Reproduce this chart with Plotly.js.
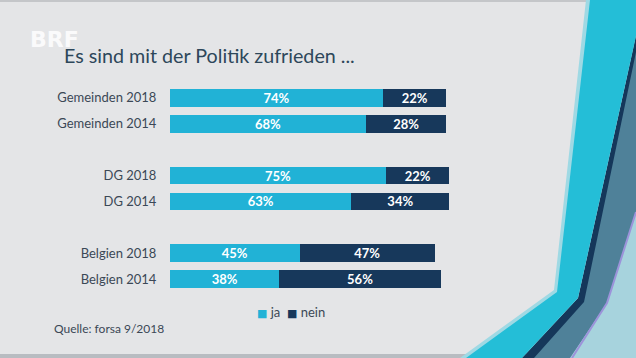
<!DOCTYPE html>
<html>
<head>
<meta charset="utf-8">
<script src="https://cdn.plot.ly/plotly-3.0.1.min.js"></script>
<style>html,body{margin:0;padding:0;background:#e4e5e7;}#chart{width:636px;height:358px;}</style>
</head>
<body>
<div id="chart"></div>
<script>
// ---- data ----
const categories = ['Gemeinden 2018', 'Gemeinden 2014', 'DG 2018', 'DG 2014', 'Belgien 2018', 'Belgien 2014'];
const spacers = [' ', '  '];
const jaValues = [74, 68, 75, 63, 45, 38];
const neinValues = [22, 28, 22, 34, 47, 56];
const seriesNames = ['ja', 'nein'];
const titleText = 'Es sind mit der Politik zufrieden ...';
const sourceText = 'Quelle: forsa 9/2018';

// ---- styling ----
const C_JA = '#21b2d6';
const C_NEIN = '#17385b';
const C_TEXT = '#3b4856';
const FONT = 'Lato, "Open Sans", sans-serif';

const W = 636, H = 358;
const M = {l: 170, r: 178, t: 72, b: 53};
const PW = W - M.l - M.r, PH = H - M.t - M.b;
const xp = X => (X - M.l) / PW;
const yp = Y => (M.t + PH - Y) / PH;
const poly = pts => 'M' + pts.map(p => xp(p[0]).toFixed(4) + ',' + yp(p[1]).toFixed(4)).join('L') + 'Z';

// category order with blank spacer rows between groups
const categoryOrder = [categories[0], categories[1], spacers[0], categories[2], categories[3], spacers[1], categories[4], categories[5]];

const barText = {color: '#ffffff', size: 13, family: FONT, weight: 'bold'};
const traces = [
  {type: 'bar', orientation: 'h', name: seriesNames[0], y: categories, x: jaValues,
   marker: {color: C_JA}, width: 0.69, showlegend: false,
   texttemplate: '%{x}%', textposition: 'inside', insidetextanchor: 'middle', textangle: 0,
   constraintext: 'none', textfont: barText, hoverinfo: 'skip'},
  {type: 'bar', orientation: 'h', name: seriesNames[1], y: categories, x: neinValues,
   marker: {color: C_NEIN}, width: 0.69, showlegend: false,
   texttemplate: '%{x}%', textposition: 'inside', insidetextanchor: 'middle', textangle: 0,
   constraintext: 'none', textfont: barText, hoverinfo: 'skip'}
];

// decorative background shapes (TV graphic frame)
const shapes = [
  {type: 'path', xref: 'paper', yref: 'paper', layer: 'below', line: {width: 0}, fillcolor: '#c4c6c9',
   path: poly([[0, 0], [636, 0], [636, 2], [0, 2]])},
  {type: 'path', xref: 'paper', yref: 'paper', layer: 'below', line: {width: 0}, fillcolor: '#b8bcc1',
   path: poly([[0, 354], [636, 354], [636, 358], [0, 358]])},
  {type: 'path', xref: 'paper', yref: 'paper', layer: 'below', line: {width: 0}, fillcolor: '#a7d3dd',
   path: poly([[636, 200], [636, 358], [560, 358], [604, 303]])},
  {type: 'path', xref: 'paper', yref: 'paper', layer: 'below', line: {width: 0}, fillcolor: '#4f8199',
   path: poly([[636, 36], [636, 212], [607, 303], [570, 358], [528, 358], [580, 300]])},
  {type: 'path', xref: 'paper', yref: 'paper', layer: 'below', line: {color: '#9c93da', width: 2},
   path: 'M' + xp(636).toFixed(4) + ',' + yp(212).toFixed(4) + 'L' + xp(607).toFixed(4) + ',' + yp(303).toFixed(4) + 'L' + xp(572).toFixed(4) + ',' + yp(358).toFixed(4)},
  {type: 'path', xref: 'paper', yref: 'paper', layer: 'below', line: {width: 0}, fillcolor: '#15375a',
   path: poly([[636, 36], [636, 52], [584, 302], [534, 358], [522, 358], [578, 298]])},
  {type: 'path', xref: 'paper', yref: 'paper', layer: 'below', line: {width: 0}, fillcolor: '#9fd9e4',
   path: poly([[586, 0], [592, 0], [559, 292], [470, 358], [460, 358], [554, 290]])},
  {type: 'path', xref: 'paper', yref: 'paper', layer: 'below', line: {width: 0}, fillcolor: '#24bed7',
   path: poly([[590, 0], [636, 0], [636, 36], [578, 298], [522, 358], [466, 358], [557, 292]])}
];

const annotations = [
  {xref: 'paper', yref: 'paper', x: xp(28), y: yp(39), xanchor: 'left', yanchor: 'middle', showarrow: false,
   text: '<b>BRF</b>', font: {family: '"DejaVu Sans", sans-serif', size: 22, color: 'rgba(255,255,255,0.85)'}},
  {xref: 'paper', yref: 'paper', x: xp(255), y: yp(312), xanchor: 'left', yanchor: 'middle', showarrow: false,
   text: '<span style="color:' + C_JA + ';font-family:DejaVu Sans;font-size:11px">■</span> ' + seriesNames[0] +
         '  <span style="color:' + C_NEIN + ';font-family:DejaVu Sans;font-size:11px">■</span> ' + seriesNames[1],
   font: {family: FONT, size: 13, color: C_TEXT}},
  {xref: 'paper', yref: 'paper', x: xp(52), y: yp(328), xanchor: 'left', yanchor: 'middle', showarrow: false,
   text: sourceText, font: {family: FONT, size: 12, color: C_TEXT}}
];

const layout = {
  width: W, height: H,
  margin: M,
  paper_bgcolor: '#e4e5e7',
  plot_bgcolor: 'rgba(0,0,0,0)',
  barmode: 'stack',
  bargap: 0,
  showlegend: false,
  title: {text: titleText, xref: 'container', yref: 'container', x: 64 / W, xanchor: 'left',
          y: 1 - 56 / H, yanchor: 'middle', font: {family: FONT, size: 19.7, color: '#2d475a'}},
  xaxis: {range: [0, 100], visible: false, fixedrange: true},
  yaxis: {type: 'category', categoryorder: 'array', categoryarray: categoryOrder,
          range: [categoryOrder.length, -1], showgrid: false, zeroline: false, showline: false,
          ticks: 'outside', ticklen: 10, tickcolor: 'rgba(0,0,0,0)',
          tickfont: {family: FONT, size: 13, color: C_TEXT}, fixedrange: true},
  shapes: shapes,
  annotations: annotations
};

Plotly.newPlot('chart', traces, layout, {displayModeBar: false, staticPlot: true});
</script>
</body>
</html>
